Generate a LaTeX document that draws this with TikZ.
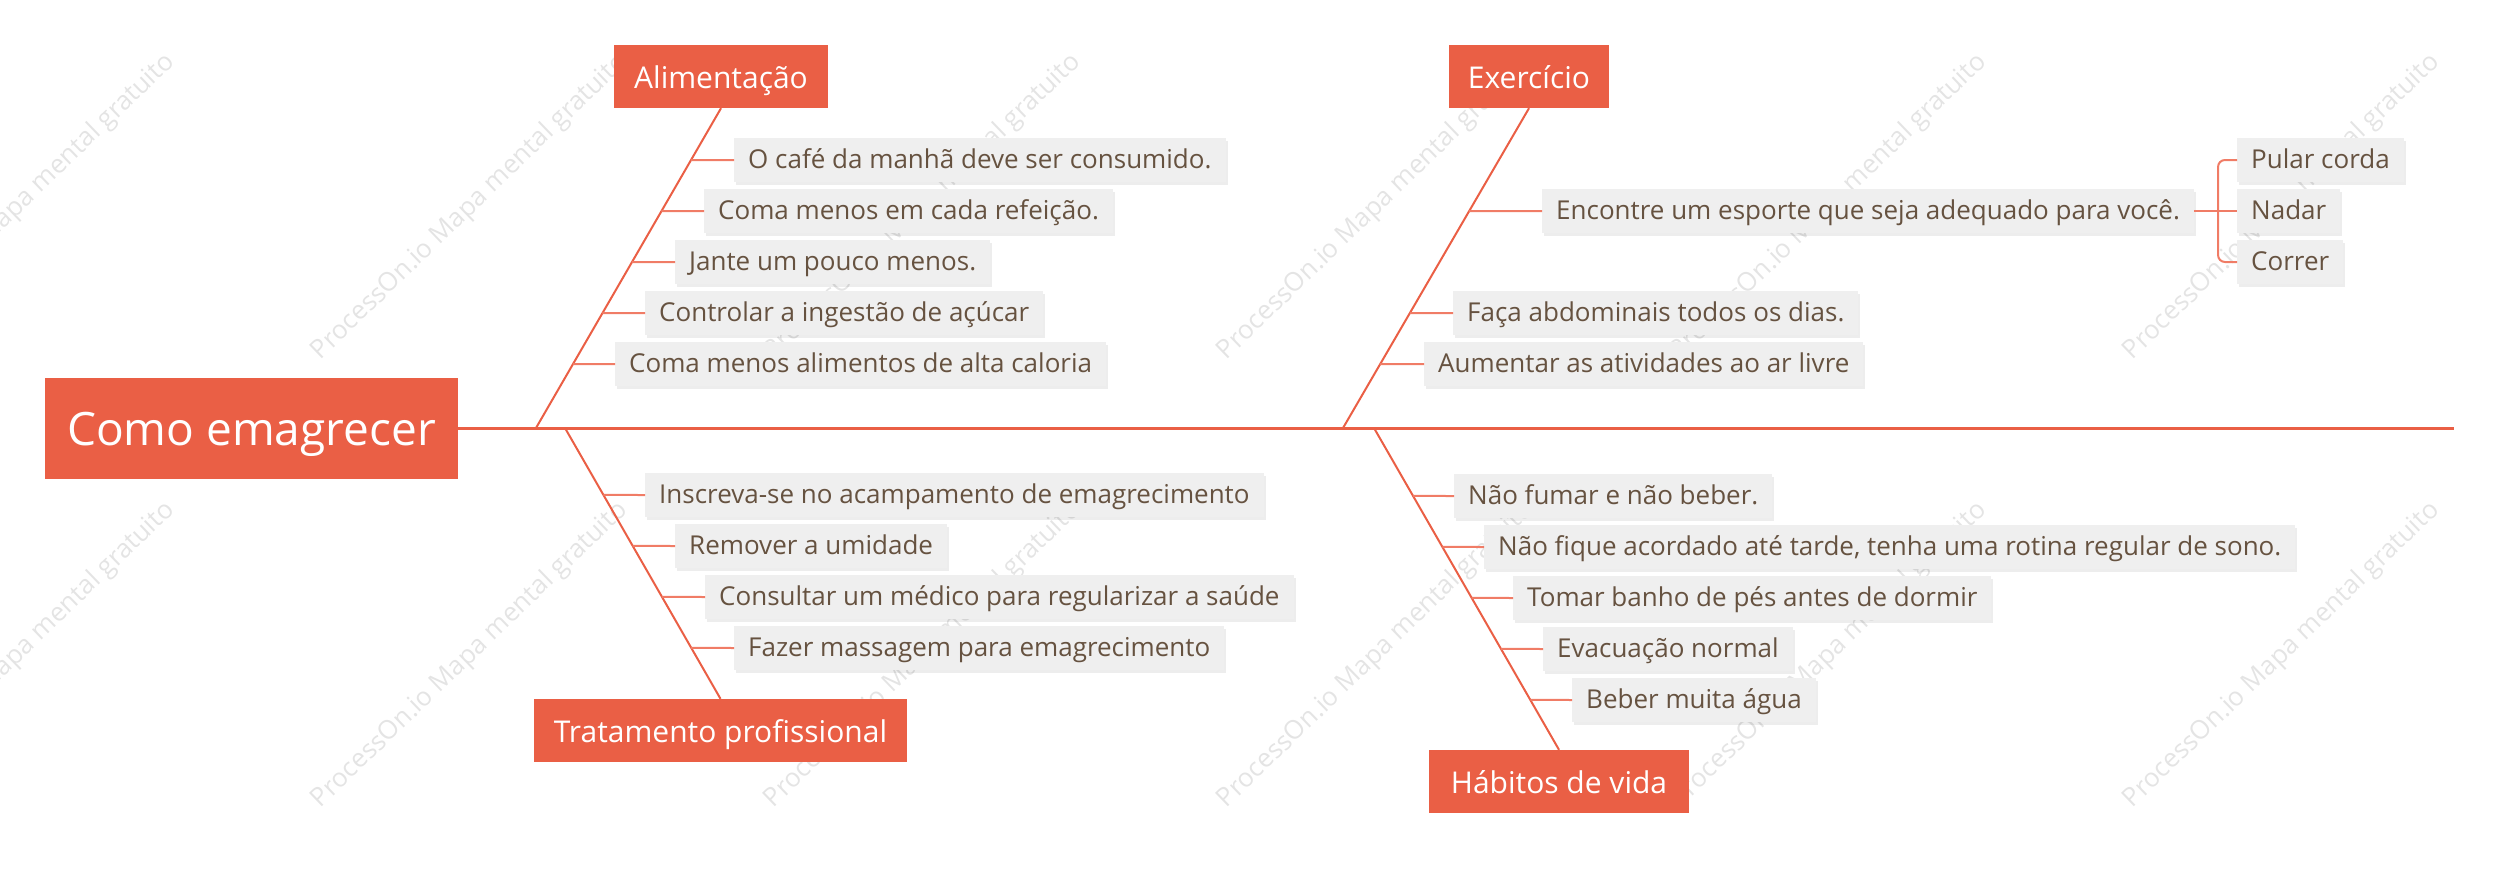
\documentclass[tikz,border=0pt]{standalone}
\usepackage{fontspec}
\setmainfont{Open Sans}
\usetikzlibrary{calc,shadows}
\definecolor{mainred}{HTML}{EA5F45}
\definecolor{connred}{HTML}{F07C66}
\definecolor{boxgray}{HTML}{EFEFEF}
\definecolor{itemtext}{HTML}{665240}
\definecolor{wmgray}{HTML}{E4E4E4}
\tikzset{
  root/.style={fill=mainred, text=white, font=\fontsize{46}{52}\selectfont, minimum width=413pt, minimum height=101pt, inner sep=0pt, text height=33pt, text depth=0pt},
  cat/.style={fill=mainred, text=white, font=\fontsize{30}{35}\selectfont, minimum height=63pt, inner sep=0pt, text height=23pt, text depth=0pt},
  item/.style={fill=boxgray, text=itemtext, font=\fontsize{26}{31}\selectfont, anchor=west, minimum height=44pt, inner xsep=14pt, inner ysep=0pt, text height=16pt, text depth=0pt,
    drop shadow={shadow xshift=2pt, shadow yshift=-2.5pt, fill=black, opacity=0.07}},
  spine/.style={draw=mainred, line width=3pt},
  branch/.style={draw=mainred, line width=2pt},
  conn/.style={draw=connred, line width=2pt},
  wm/.style={text=wmgray, font=\fontsize{26}{30}\selectfont, rotate=44, inner sep=0pt}
}
\begin{document}
\begin{tikzpicture}[x=1pt,y=-1pt]
\useasboundingbox (0,0) rectangle (2497,873);
% watermarks
\foreach \i/\cx in {1/17,2/470,3/923,4/1376,5/1829,6/2282}{
  \node[wm] (wma\i) at (\cx,207) {ProcessOn.io Mapa mental gratuito};
  \node[wm] (wmb\i) at (\cx,655) {ProcessOn.io Mapa mental gratuito};
}
% root and categories
\node[root] (root) at (251.5,428.5) {Como emagrecer};
\node[cat, minimum width=214pt] (A) at (721,76.5) {Alimentação};
\node[cat, minimum width=160pt] (E) at (1529,76.5) {Exercício};
\node[cat, minimum width=373pt] (T) at (720.5,730.5) {Tratamento profissional};
\node[cat, minimum width=260pt] (H) at (1559,781.5) {Hábitos de vida};
% spine
\coordinate (spineEnd) at (2454,428);
\coordinate (sA) at (536,428);
\coordinate (sT) at (565,428);
\coordinate (sE) at (1343,428);
\coordinate (sH) at (1374,428);
\draw[spine] (root.east |- spineEnd) -- (spineEnd);
\draw[branch] (A.south) -- (sA);
\draw[branch] (sT) -- (T.north);
\draw[branch] (E.south) -- (sE);
\draw[branch] (sH) -- (H.north);
% Alimentacao items
\node[item] (a1) at (734,160) {O café da manhã deve ser consumido.};
\node[item] (a2) at (704,211) {Coma menos em cada refeição.};
\node[item] (a3) at (675,262) {Jante um pouco menos.};
\node[item] (a4) at (645,313) {Controlar a ingestão de açúcar};
\node[item] (a5) at (615,364) {Coma menos alimentos de alta caloria};
\coordinate (ca1) at ($(A.south)!0.1625!(sA)$);
\coordinate (ca2) at ($(A.south)!0.321875!(sA)$);
\coordinate (ca3) at ($(A.south)!0.48125!(sA)$);
\coordinate (ca4) at ($(A.south)!0.640625!(sA)$);
\coordinate (ca5) at ($(A.south)!0.8!(sA)$);
\foreach \k in {1,...,5}{ \draw[conn] (ca\k) -- (a\k.west); }
% Tratamento items
\node[item] (t1) at (645,495) {Inscreva-se no acampamento de emagrecimento};
\node[item] (t2) at (675,546) {Remover a umidade};
\node[item] (t3) at (705,597) {Consultar um médico para regularizar a saúde};
\node[item] (t4) at (734,648) {Fazer massagem para emagrecimento};
\coordinate (ct1) at ($(sT)!0.247232!(T.north)$);
\coordinate (ct2) at ($(sT)!0.435424!(T.north)$);
\coordinate (ct3) at ($(sT)!0.623616!(T.north)$);
\coordinate (ct4) at ($(sT)!0.811808!(T.north)$);
\foreach \k in {1,...,4}{ \draw[conn] (ct\k) -- (t\k.west); }
% Exercicio items
\node[item] (e1) at (1542,211) {Encontre um esporte que seja adequado para você.};
\node[item] (e2) at (1453,313) {Faça abdominais todos os dias.};
\node[item] (e3) at (1424,364) {Aumentar as atividades ao ar livre};
\coordinate (ce1) at ($(E.south)!0.321875!(sE)$);
\coordinate (ce2) at ($(E.south)!0.640625!(sE)$);
\coordinate (ce3) at ($(E.south)!0.8!(sE)$);
\foreach \k in {1,...,3}{ \draw[conn] (ce\k) -- (e\k.west); }
\node[item] (p1) at (2237,160) {Pular corda};
\node[item] (p2) at (2237,211) {Nadar};
\node[item] (p3) at (2237,262) {Correr};
\coordinate (bk) at (2218,211);
\draw[conn] (e1.east) -- (p2.west);
\draw[conn, rounded corners=7pt] (p1.west) -| (bk) |- (p3.west);
% Habitos items
\node[item] (h1) at (1454,496) {Não fumar e não beber.};
\node[item] (h2) at (1484,547) {Não fique acordado até tarde, tenha uma rotina regular de sono.};
\node[item] (h3) at (1513,598) {Tomar banho de pés antes de dormir};
\node[item] (h4) at (1543,649) {Evacuação normal};
\node[item] (h5) at (1572,700) {Beber muita água};
\coordinate (ch1) at ($(sH)!0.21118!(H.north)$);
\coordinate (ch2) at ($(sH)!0.369565!(H.north)$);
\coordinate (ch3) at ($(sH)!0.52795!(H.north)$);
\coordinate (ch4) at ($(sH)!0.686335!(H.north)$);
\coordinate (ch5) at ($(sH)!0.84472!(H.north)$);
\foreach \k in {1,...,5}{ \draw[conn] (ch\k) -- (h\k.west); }
\end{tikzpicture}
\end{document}
